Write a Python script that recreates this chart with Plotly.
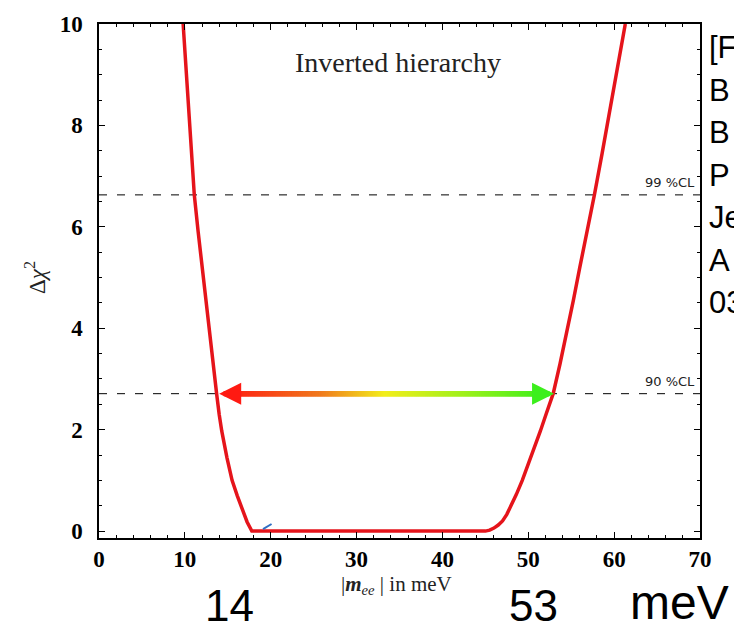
import numpy as np
import plotly.graph_objects as go

# Delta chi^2 profile versus |m_ee| (meV), inverted hierarchy
m_ee = [9.8, 10.1, 10.4, 10.75, 11.1, 11.55, 12.0, 12.45, 12.9, 13.3, 13.7, 14.0, 14.3,
        14.9, 15.5, 16.1, 16.7, 17.25, 17.8,
        45.0, 45.5, 46.0, 46.5, 47.0, 47.5, 48.0, 48.6, 49.3, 50.3, 51.4, 52.1, 52.9,
        53.7, 54.5, 55.25, 56.0, 56.85, 57.7, 58.6, 59.5, 60.4, 61.3]
dchi2 = [10.0, 9.2, 8.4, 7.5, 6.63, 5.9, 5.2, 4.55, 3.92, 3.3, 2.71, 2.3, 1.97,
         1.45, 1.0, 0.7, 0.42, 0.18, 0.0,
         0.0, 0.02, 0.06, 0.12, 0.2, 0.33, 0.5, 0.72, 1.0, 1.45, 1.97, 2.32, 2.71,
         3.3, 3.92, 4.55, 5.2, 5.9, 6.63, 7.45, 8.3, 9.15, 10.0]

# small blue trace near the minimum
blue_x = [19.1, 20.1]
blue_y = [0.04, 0.14]

# confidence-level thresholds
cl_levels = [2.71, 6.63]
cl_labels = ["90 %CL", "99 %CL"]

# 90% CL interval
interval = [14, 53]
interval_labels = ["14", "53"]
unit_label = "meV"

# reference lines at the right edge
ref_lines = ["[F", "B", "B", "P", "Je", "A", "03"]

x_ticks = [0, 10, 20, 30, 40, 50, 60, 70]
y_ticks = [0, 2, 4, 6, 8, 10]

# plot-area geometry in pixels
W, H = 734, 630
L, R, T, B = 99, 700, 18, 538
PW, PH = R - L, B - T


def px(x):
    return (x - L) / PW


def py(y):
    return (B - y) / PH


fig = go.Figure()

# dashed CL lines
for lev in cl_levels:
    fig.add_trace(go.Scatter(x=[x_ticks[0], x_ticks[-1]], y=[lev, lev], mode="lines",
                             line=dict(color="black", width=1, dash="8px,10px"),
                             hoverinfo="skip", showlegend=False))

# chi^2 curve
fig.add_trace(go.Scatter(x=m_ee, y=dchi2, mode="lines",
                         line=dict(color="#e5141b", width=3.5),
                         showlegend=False))

fig.add_trace(go.Scatter(x=blue_x, y=blue_y, mode="lines",
                         line=dict(color="#2f6fc4", width=2), showlegend=False))

# gradient shaft of the interval arrow (red -> yellow -> green)
shaft_x = np.linspace(interval[0] + 0.8, interval[1] - 0.8, 500)
fig.add_trace(go.Scatter(x=shaft_x, y=[cl_levels[0]] * len(shaft_x), mode="markers",
                         marker=dict(symbol="square", size=5, color=shaft_x,
                                     colorscale=[[0, "#ff1a12"], [0.3, "#f07a1e"],
                                                 [0.5, "#f2ee1c"], [0.75, "#9ef01c"],
                                                 [1, "#3cef1c"]],
                                     line=dict(width=0)),
                         hoverinfo="skip", showlegend=False))

annotations = []
# arrowheads
annotations.append(dict(x=interval[0], y=cl_levels[0], ax=interval[0] + 1.5, ay=cl_levels[0],
                        xref="x", yref="y", axref="x", ayref="y", text="", showarrow=True,
                        arrowhead=2, arrowsize=1.1, arrowwidth=4, arrowcolor="#ff1a12", standoff=0))
annotations.append(dict(x=interval[1], y=cl_levels[0], ax=interval[1] - 1.5, ay=cl_levels[0],
                        xref="x", yref="y", axref="x", ayref="y", text="", showarrow=True,
                        arrowhead=2, arrowsize=1.1, arrowwidth=4, arrowcolor="#3cef1c", standoff=0))

# CL labels
for lev, lab in zip(cl_levels, cl_labels):
    annotations.append(dict(x=x_ticks[-1], y=lev, xref="x", yref="y", text=lab, showarrow=False,
                            xanchor="right", yanchor="bottom", xshift=-3, yshift=3,
                            font=dict(family="DejaVu Sans", size=13, color="#222")))

annotations.append(dict(x=px(398), y=py(57), xref="paper", yref="paper", text="Inverted hierarchy",
                        showarrow=False, xanchor="center", yanchor="middle",
                        font=dict(family="Liberation Serif", size=28, color="#222")))

annotations.append(dict(x=px(35), y=py(275), xref="paper", yref="paper",
                        text="Δ<i>χ</i><sup>2</sup>", textangle=-90, showarrow=False,
                        xanchor="center", yanchor="middle",
                        font=dict(family="Liberation Serif", size=23, color="#222")))

annotations.append(dict(x=px(396), y=py(586), xref="paper", yref="paper",
                        text="|<b><i>m</i></b><sub><i>ee</i></sub> | in meV", showarrow=False,
                        xanchor="center", yanchor="middle",
                        font=dict(family="Liberation Serif", size=21, color="#222")))

# interval values and unit below the axis
for xc, lab in zip([229, 533], interval_labels):
    annotations.append(dict(x=px(xc), y=py(606), xref="paper", yref="paper", text=lab,
                            showarrow=False, xanchor="center", yanchor="middle",
                            font=dict(family="Liberation Sans", size=44, color="black")))
annotations.append(dict(x=px(679), y=py(603), xref="paper", yref="paper", text=unit_label,
                        showarrow=False, xanchor="center", yanchor="middle",
                        font=dict(family="Liberation Sans", size=48, color="black")))

# reference lines clipped at the page edge
for i, t in enumerate(ref_lines):
    annotations.append(dict(x=px(707), y=py(42 + 43 * i), xref="paper", yref="paper", text=t,
                            showarrow=False, xanchor="left", yanchor="middle",
                            font=dict(family="Liberation Sans", size=31, color="black")))

axis_common = dict(showline=True, linecolor="black", linewidth=1.5, mirror="ticks",
                   ticks="inside", ticklen=6, tickwidth=1, tickcolor="black",
                   showgrid=False, zeroline=False,
                   tickfont=dict(family="Liberation Serif", size=23, color="black", weight="bold"))

fig.update_layout(
    width=W, height=H,
    margin=dict(l=L, r=W - R, t=T, b=H - B, pad=0),
    paper_bgcolor="white", plot_bgcolor="white",
    showlegend=False,
    xaxis=dict(range=[0, 70], tickvals=x_ticks, ticklabelstandoff=0,
               minor=dict(dtick=2, tick0=0, ticks="inside", ticklen=3, tickcolor="black", showgrid=False),
               **axis_common),
    yaxis=dict(range=[-0.136, 10], tickvals=y_ticks, ticklabelstandoff=10,
               minor=dict(dtick=0.5, tick0=0, ticks="inside", ticklen=3, tickcolor="black", showgrid=False),
               **axis_common),
    annotations=annotations,
)

fig.write_html("out.html")
